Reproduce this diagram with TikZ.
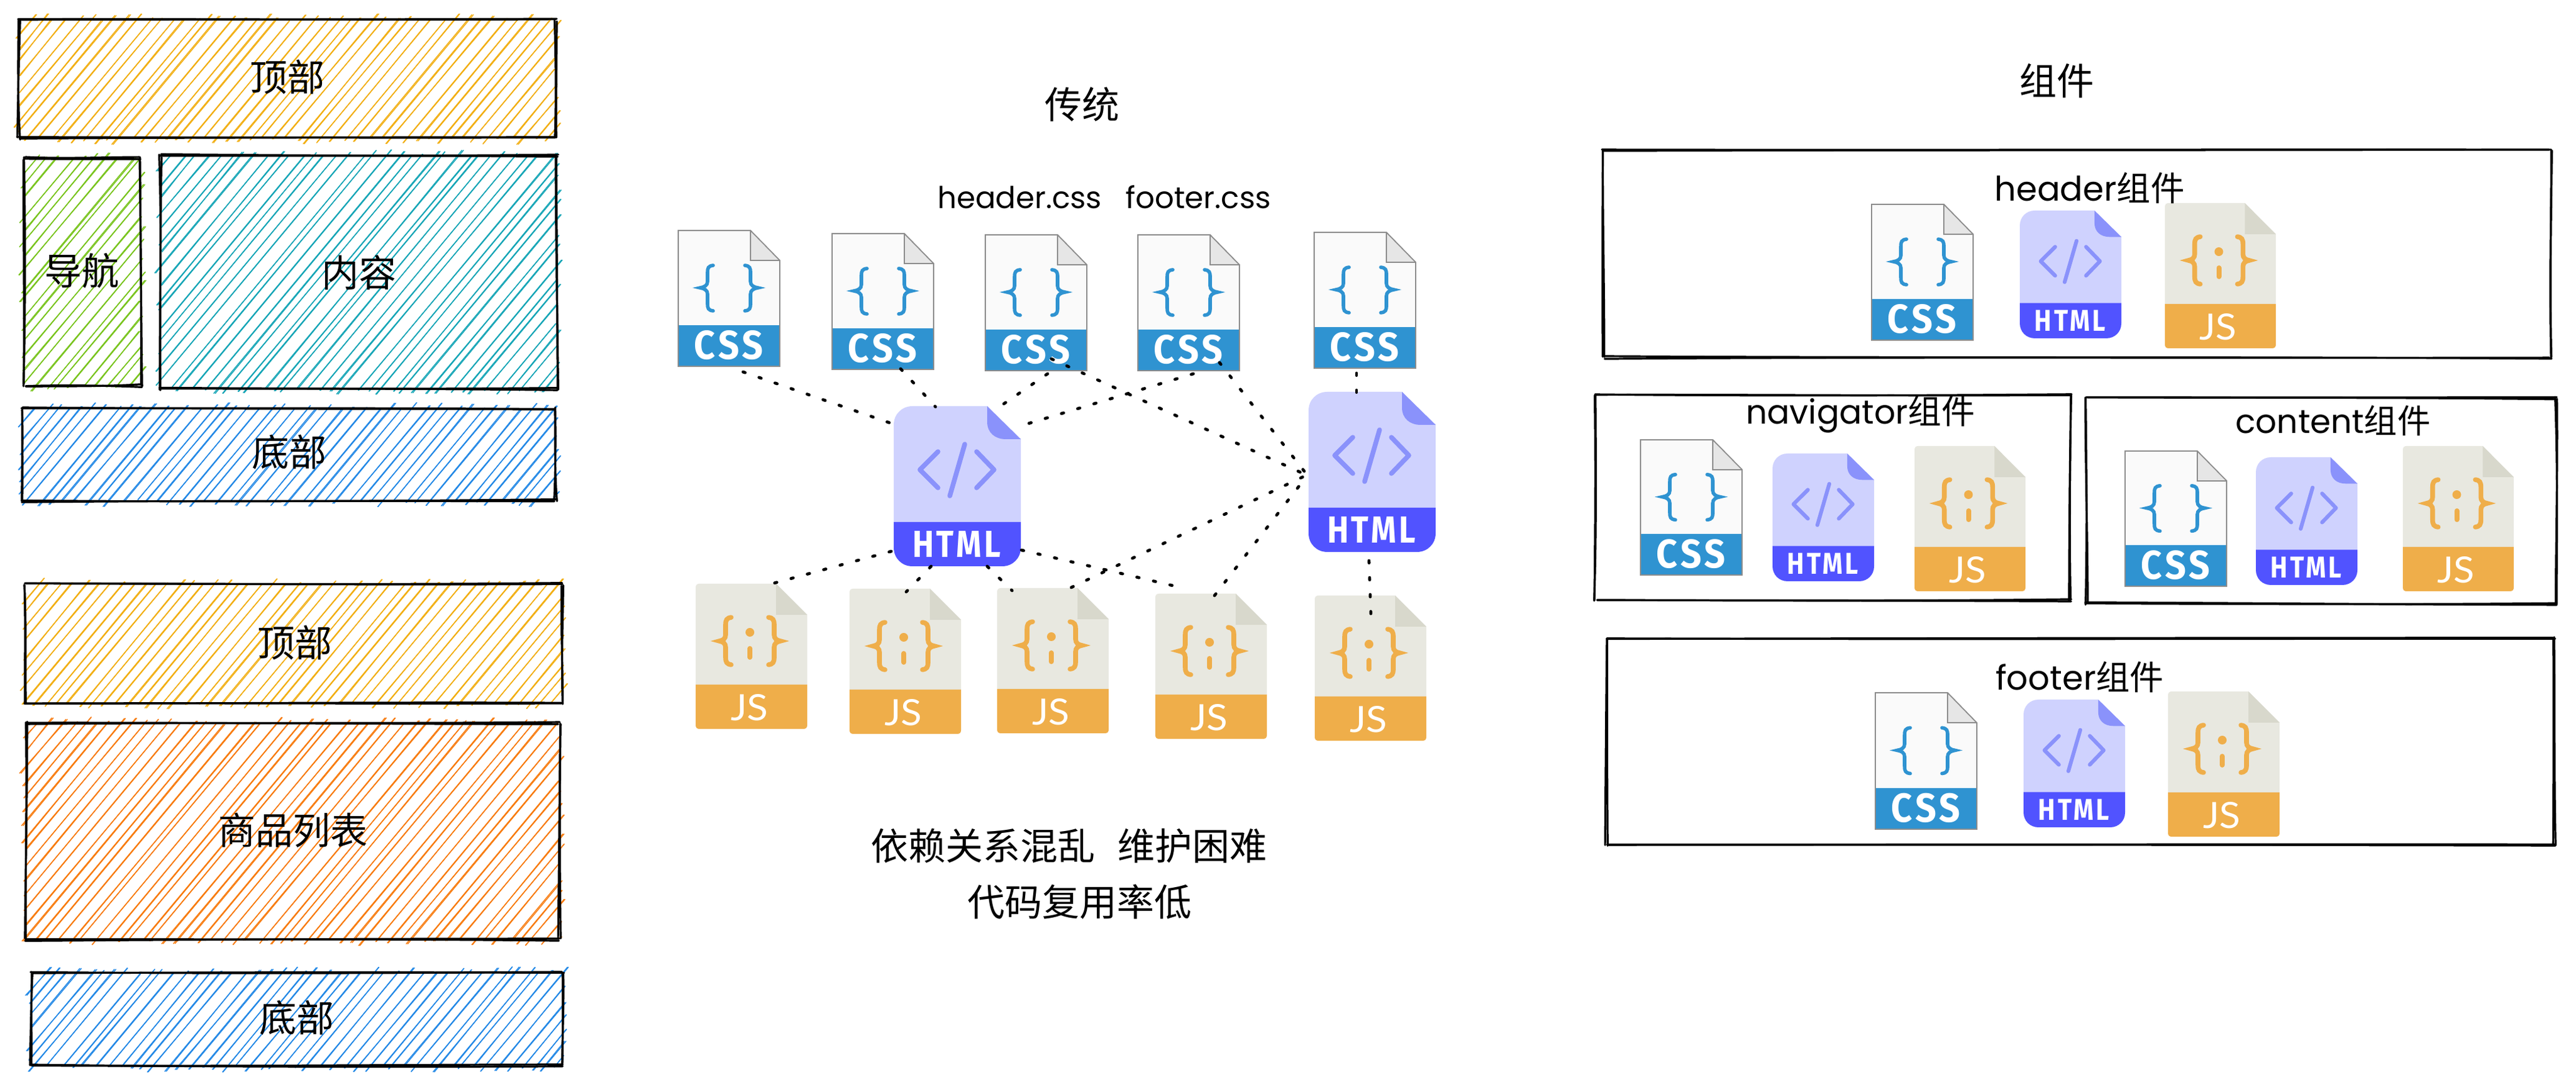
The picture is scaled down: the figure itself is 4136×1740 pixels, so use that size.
\documentclass[tikz,border=0pt]{standalone}
\usepackage{fontspec}
\usepackage{graphicx}
\setmainfont{Noto Sans CJK SC}
\newfontfamily\lat{Poppins}
\newfontfamily\iconb[LetterSpace=9]{Fira Sans}
\newfontfamily\iconr{Lato}
\definecolor{hYellow}{HTML}{F2AE10}
\definecolor{hGreen}{HTML}{78C41C}
\definecolor{hTeal}{HTML}{14A5B6}
\definecolor{hBlue}{HTML}{2288E6}
\definecolor{hOrange}{HTML}{F87A0C}
\definecolor{cssBlue}{HTML}{2F93D1}
\definecolor{cssPage}{HTML}{FAFAFA}
\definecolor{cssFold}{HTML}{E6E6E6}
\definecolor{cssEdge}{HTML}{8C8C8C}
\definecolor{htmlBody}{HTML}{CFD2FE}
\definecolor{htmlBand}{HTML}{5153FF}
\definecolor{htmlMark}{HTML}{8A92FB}
\definecolor{jsBody}{HTML}{E8E8E0}
\definecolor{jsFold}{HTML}{D8D8CC}
\definecolor{jsBand}{HTML}{EFAE4A}
\tikzset{
  sk/.style={black,line width=0.8pt,line cap=round},
  hl/.style={line width=0.36pt,line cap=round},
  iconbox/.style={inner sep=0pt,outer sep=0pt,rectangle,draw=none},
  dep/.style={black,line width=1.2pt,line cap=round,dash pattern=on 0.9pt off 5.9pt},
  lab/.style={inner sep=0pt,font=\fontsize{15}{18}\selectfont},
}
% hand-drawn line, two passes
\newcommand\skline[4]{%
  \foreach \p in {1,2}{%
    \draw[sk] ({#1+2.5*rand},{#2+2.5*rand}) .. controls ({#1*0.67+#3*0.33+2*rand},{#2*0.67+#4*0.33+2*rand}) and ({#1*0.33+#3*0.67+2*rand},{#2*0.33+#4*0.67+2*rand}) .. ({#3+2.5*rand},{#4+2.5*rand});
  }%
}
\newcommand\skbox[4]{%
  \skline{#1}{#2}{#3}{#2}\skline{#3}{#2}{#3}{#4}\skline{#3}{#4}{#1}{#4}\skline{#1}{#4}{#1}{#2}%
}
% hachure fill
\newcommand\hatch[5]{%
  \pgfmathsetmacro\hh{(#4-#2)/1.2}%
  \pgfmathtruncatemacro\nn{(#3-#1+\hh)/19}%
  \foreach \i in {1,...,\nn}{%
    \pgfmathsetmacro\cc{#1-\hh+\i*19+5*rand}%
    \pgfmathsetmacro\sx{max(\cc,#1)}%
    \pgfmathsetmacro\sy{#4-1.2*(\sx-\cc)}%
    \pgfmathsetmacro\ex{min(\cc+\hh,#3)}%
    \pgfmathsetmacro\ey{#4-1.2*(\ex-\cc)}%
    \pgfmathsetmacro\oa{4+6*rand}%
    \pgfmathsetmacro\ob{4+6*rand}%
    \draw[hl,#5] ({\sx-\oa/1.2},{\sy+\oa}) -- ({\ex+\ob/1.2},{\ey-\ob});
    \draw[hl,#5] ({\sx-\oa/1.2+2.5*rand},{\sy+\oa}) -- ({\ex+\ob/1.2+2.5*rand},{\ey-\ob});
  }%
}
\newcommand\cssicon[5]{% name x y w h
  \node[iconbox,minimum width={#4*0.25pt},minimum height={#5*0.25pt}] (#1) at ({#2+#4/2},{#3+#5/2}) {};
  \begin{scope}[shift={(#2,#3)},xscale={#4/163},yscale={#5/218}]
    \fill[cssPage] (0,0) -- (116,0) -- (163,48) -- (163,218) -- (0,218) -- cycle;
    \fill[cssFold] (116,0) -- (163,48) -- (116,48) -- cycle;
    \fill[cssBlue] (0,152) rectangle (163,218);
    \draw[cssEdge,line width=0.45pt] (0,218) -- (0,0) -- (116,0) -- (163,48) -- (163,218) -- cycle;
    \draw[cssEdge,line width=0.45pt] (116,0) -- (116,48) -- (163,48);
    \draw[cssBlue,line width=1.4pt,line cap=round] (56,56) .. controls (48,57) and (47,60) .. (47,68) -- (47,82) .. controls (47,88) and (42,91) .. (35,92) .. controls (42,93) and (47,96) .. (47,102) -- (47,117) .. controls (47,125) and (48,128) .. (56,129);
    \draw[cssBlue,line width=1.4pt,line cap=round] (107,56) .. controls (115,57) and (116,60) .. (116,68) -- (116,82) .. controls (116,88) and (121,91) .. (128,92) .. controls (121,93) and (116,96) .. (116,102) -- (116,117) .. controls (116,125) and (115,128) .. (107,129);
    \node[transform shape,inner sep=0pt,text=white] at (81,184) {\resizebox{27.75pt}{11.5pt}{\iconb\bfseries CSS}};
  \end{scope}
}
\newcommand\htmlicon[5]{%
  \node[iconbox,minimum width={#4*0.25pt},minimum height={#5*0.25pt}] (#1) at ({#2+#4/2},{#3+#5/2}) {};
  \begin{scope}[shift={(#2,#3)},xscale={#4/204},yscale={#5/257}]
    \fill[htmlBody] (0,30) .. controls (0,13) and (13,0) .. (30,0) -- (150,0) -- (204,53) -- (204,186) -- (0,186) -- cycle;
    \fill[htmlBand] (0,186) -- (204,186) -- (204,227) .. controls (204,244) and (191,257) .. (174,257) -- (30,257) .. controls (13,257) and (0,244) .. (0,227) -- cycle;
    \fill[htmlMark] (150,0) -- (204,53) -- (180,53) .. controls (163,53) and (150,43) .. (150,25) -- cycle;
    \draw[htmlMark,line width={1.9*#4/204*1pt},line cap=round,line join=round] (71,73) -- (42,102) -- (71,131);
    \draw[htmlMark,line width={1.9*#4/204*1pt},line cap=round,line join=round] (133,73) -- (161,102) -- (133,131);
    \draw[htmlMark,line width={1.9*#4/204*1pt},line cap=round] (114,61) -- (90,144);
    \node[transform shape,inner sep=0pt,text=white] at (101,222) {\resizebox{35.5pt}{10.5pt}{\iconb\bfseries HTML}};
  \end{scope}
}
\newcommand\jsicon[5]{%
  \node[iconbox,minimum width={#4*0.25pt},minimum height={#5*0.25pt}] (#1) at ({#2+#4/2},{#3+#5/2}) {};
  \begin{scope}[shift={(#2,#3)},xscale={#4/179},yscale={#5/233}]
    \fill[jsBody] (0,6) .. controls (0,2) and (2,0) .. (6,0) -- (129,0) -- (179,50) -- (179,162) -- (0,162) -- cycle;
    \fill[jsBand] (0,162) -- (179,162) -- (179,227) .. controls (179,231) and (177,233) .. (173,233) -- (6,233) .. controls (2,233) and (0,231) .. (0,227) -- cycle;
    \fill[jsFold] (129,0) -- (179,50) -- (129,50) -- cycle;
    \draw[jsBand,line width=1.9pt,line cap=round] (57,54) .. controls (50,55) and (48,58) .. (48,66) -- (48,82) .. controls (48,88) and (44,91) .. (38,92) .. controls (44,93) and (48,96) .. (48,102) -- (48,118) .. controls (48,126) and (50,129) .. (57,130);
    \draw[jsBand,line width=1.9pt,line cap=round] (117,54) .. controls (124,55) and (126,58) .. (126,66) -- (126,82) .. controls (126,88) and (130,91) .. (136,92) .. controls (130,93) and (126,96) .. (126,102) -- (126,118) .. controls (126,126) and (124,129) .. (117,130);
    \fill[jsBand] (87,78) circle (7);
    \draw[jsBand,line width=2pt,line cap=round] (87,104) -- (87,118);
    \node[transform shape,inner sep=0pt,text=white] at (86,199) {\resizebox{15pt}{10.5pt}{\iconr JS}};
  \end{scope}
}
\begin{document}
\begin{tikzpicture}[x=0.25pt,y=-0.25pt]
\pgfmathsetseed{4136}
\useasboundingbox (0,0) rectangle (4136,1740);
\fill[white] (0,0) rectangle (4136,1740);

% left column: hachured blocks
\hatch{30}{32}{892}{222}{hYellow}\skbox{30}{32}{892}{222}
\hatch{39}{254}{226}{619}{hGreen}\skbox{39}{254}{226}{619}
\hatch{258}{250}{894}{624}{hTeal}\skbox{258}{250}{894}{624}
\hatch{36}{656}{892}{804}{hBlue}\skbox{36}{656}{892}{804}
\hatch{41}{938}{902}{1128}{hYellow}\skbox{41}{938}{902}{1128}
\hatch{42}{1161}{898}{1508}{hOrange}\skbox{42}{1161}{898}{1508}
\hatch{50}{1562}{904}{1711}{hBlue}\skbox{50}{1562}{904}{1711}

\node[lab] (topA) at (461,124) {顶部};
\node[lab] (navA) at (131.5,435) {导航};
\node[lab] (conA) at (576,438) {内容};
\node[lab] (botA) at (464,726) {底部};
\node[lab] (topB) at (473,1032) {顶部};
\node[lab] (listB) at (470,1333) {商品列表};
\node[lab] (botB) at (476,1634) {底部};

% middle: traditional
\cssicon{cssa}{1089}{370}{163}{218}
\cssicon{cssb}{1336}{375}{163}{218}
\cssicon{cssc}{1582}{377}{163}{218}
\cssicon{cssd}{1827}{377}{163}{218}
\cssicon{csse}{2110}{373}{163}{218}
\htmlicon{htmla}{1435}{652}{204}{257}
\htmlicon{htmlb}{2101}{629}{204}{257}
\jsicon{jsa}{1117}{937}{179}{233}
\jsicon{jsb}{1364}{945}{179}{233}
\jsicon{jsc}{1601}{944}{179}{233}
\jsicon{jsd}{1855}{953}{179}{233}
\jsicon{jse}{2111}{956}{179}{233}

\draw[dep] ([shift={(104,227)}]cssa.north west) -- ([shift={(3,30)}]htmla.north west);
\draw[dep] ([shift={(110,217)}]cssb.north west) -- ([shift={(67,1)}]htmla.north west);
\draw[dep] ([shift={(100,223)}]cssc.north west) -- ([shift={(158,9)}]htmla.north west);
\draw[dep] ([shift={(89,223)}]cssd.north west) -- ([shift={(209,30)}]htmla.north west);
\draw[dep] ([shift={(106,199)}]cssc.north west) -- ([shift={(0,135)}]htmlb.north west);
\draw[dep] ([shift={(131,205)}]cssd.north west) -- ([shift={(-1,135)}]htmlb.north west);
\draw[dep] ([shift={(68,226)}]csse.north west) -- ([shift={(77,2)}]htmlb.north west);
\draw[dep] ([shift={(-4,233)}]htmla.north west) -- ([shift={(111,3)}]jsa.north west);
\draw[dep] ([shift={(60,257)}]htmla.north west) -- ([shift={(91,5)}]jsb.north west);
\draw[dep] ([shift={(150,257)}]htmla.north west) -- ([shift={(24,4)}]jsc.north west);
\draw[dep] ([shift={(205,231)}]htmla.north west) -- ([shift={(41,-10)}]jsd.north west);
\draw[dep] ([shift={(119,-1)}]jsc.north west) -- ([shift={(-6,135)}]htmlb.north west);
\draw[dep] ([shift={(95,3)}]jsd.north west) -- ([shift={(-5,138)}]htmlb.north west);
\draw[dep] ([shift={(97,271)}]htmlb.north west) -- ([shift={(90,29)}]jse.north west);

\node[lab] (titleA) at (1737,168) {传统};
\node[lab] (files) at (1773,316) {\resizebox{133.75pt}{!}{\lat header.css\hspace{0.8em}footer.css}};
\node[lab] (probA) at (1716,1358) {依赖关系混乱\hspace{0.6em}维护困难};
\node[lab] (probB) at (1733,1448) {代码复用率低};

% right: components
\node[lab] (titleB) at (3302,130) {组件};
\skbox{2574}{241}{4095}{574}
\skbox{2562}{634}{3324}{964}
\skbox{3350}{639}{4105}{969}
\skbox{2579}{1025}{4101}{1356}

\cssicon{cssf}{3005}{328}{163}{218}
\htmlicon{htmlf}{3243}{338}{163}{205}
\jsicon{jsf}{3476}{326}{178}{233}
\cssicon{cssg}{2634}{706}{163}{217}
\htmlicon{htmlg}{2846}{728}{163}{205}
\jsicon{jsg}{3074}{716}{178}{233}
\cssicon{cssh}{3412}{724}{163}{217}
\htmlicon{htmlh}{3622}{734}{163}{205}
\jsicon{jsh}{3858}{716}{178}{233}
\cssicon{cssi}{3011}{1112}{163}{219}
\htmlicon{htmli}{3249}{1123}{163}{205}
\jsicon{jsi}{3481}{1110}{179}{233}

\node[lab] (hdr) at (3355,302) {\resizebox{76.25pt}{!}{{\lat header}组件}};
\node[lab] (navc) at (2987,665) {\resizebox{92pt}{!}{{\lat navigator}组件}};
\node[lab] (conc) at (3746,675) {\resizebox{78.25pt}{!}{{\lat content}组件}};
\node[lab] (ftr) at (3339,1087) {\resizebox{67.5pt}{!}{{\lat footer}组件}};
\end{tikzpicture}
\end{document}
